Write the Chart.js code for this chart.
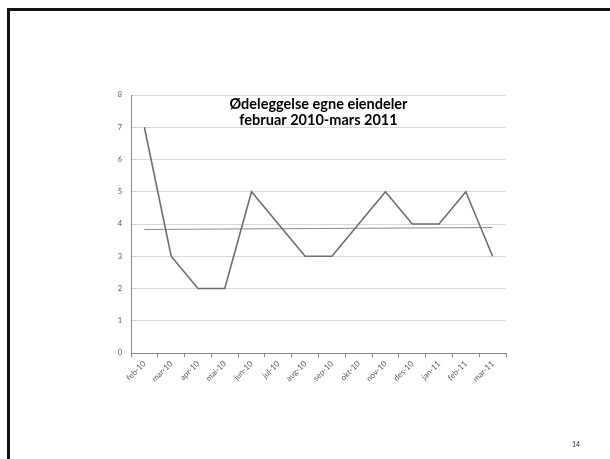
<!DOCTYPE html>
<html>
<head>
<meta charset="utf-8">
<script src="https://cdn.jsdelivr.net/npm/chart.js@4/dist/chart.umd.min.js"></script>
<style>
  html, body { margin: 0; padding: 0; background: #fff; }
  body { width: 610px; height: 459px; position: relative; overflow: hidden; }
  #frame { position: absolute; left: 7px; top: 8px; width: 700px; height: 600px; border: 3px solid #111; box-sizing: border-box; }
  #wrap { position: absolute; left: 0; top: 0; width: 610px; height: 459px; }
  #page { position: absolute; left: 572px; top: 440px; font: 7px Lato, sans-serif; color: #333; }
</style>
</head>
<body>
<div id="frame"></div>
<div id="wrap"><canvas id="c" width="610" height="459"></canvas></div>
<div id="page">14</div>
<script>
const categories = ["feb-10","mar-10","apr-10","mai-10","jun-10","jul-10","aug-10","sep-10","okt-10","nov-10","des-10","jan-11","feb-11","mar-11"];
const values = [7, 3, 2, 2, 5, 4, 3, 3, 4, 5, 4, 4, 5, 3];
const trendValues = [3.83, null, null, null, null, null, null, null, null, null, null, null, null, 3.89];
const titleLines = ["Ødeleggelse egne eiendeler", "februar 2010-mars 2011"];
const yTicks = [0, 1, 2, 3, 4, 5, 6, 7, 8];

Chart.defaults.font.family = "Lato, 'Liberation Sans', sans-serif";
Chart.defaults.color = "#595959";

new Chart(document.getElementById('c'), {
  type: 'line',
  data: {
    labels: categories,
    datasets: [
      { data: values, borderColor: '#6e6e6e', borderWidth: 1.6, pointRadius: 0, tension: 0, fill: false },
      { data: trendValues, borderColor: '#8a8a8a', borderWidth: 1, pointRadius: 0, spanGaps: true, fill: false }
    ]
  },
  options: {
    responsive: false,
    animation: false,
    events: [],
    layout: { padding: { left: 100, right: 104, top: 0, bottom: 40 } },
    plugins: {
      legend: { display: false },
      tooltip: { enabled: false },
      title: {
        display: true,
        fullSize: false,
        text: titleLines,
        color: '#000',
        font: { size: 14.5, weight: 'bold', lineHeight: '16px' },
        padding: { top: 96, bottom: -33 }
      }
    },
    scales: {
      x: {
        offset: true,
        grid: { display: true, offset: true, drawOnChartArea: false, drawTicks: true, tickLength: 4, color: '#868686' },
        border: { color: '#868686', width: 1 },
        ticks: { autoSkip: false, maxRotation: 45, minRotation: 45, font: { size: 8 }, padding: 2 },
        afterFit: s => { s.height = 66; }
      },
      y: {
        min: 0, max: 8,
        afterBuildTicks: s => { s.ticks = yTicks.map(v => ({ value: v })); },
        grid: { color: '#d9d9d9', drawTicks: false },
        border: { color: '#868686', width: 1 },
        ticks: { font: { size: 7.5 }, padding: 9 },
        afterFit: s => { s.width = 31; }
      }
    }
  }
});
</script>
</body>
</html>
